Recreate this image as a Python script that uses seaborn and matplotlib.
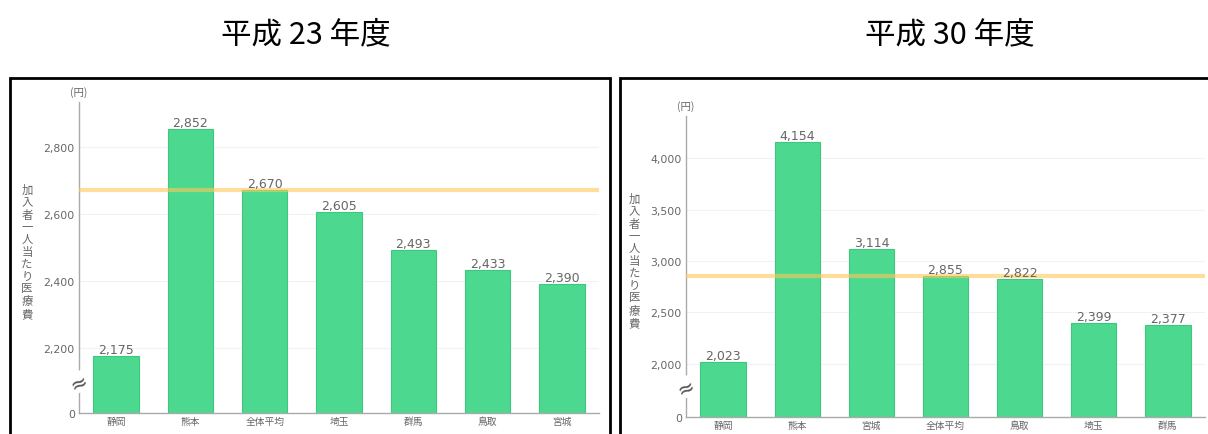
import matplotlib
matplotlib.use('Agg')
import matplotlib.pyplot as plt
import matplotlib.patches as patches
import seaborn as sns

# data
cats_h23 = ['静岡', '熊本', '全体平均', '埼玉', '群馬', '鳥取', '宮城']
vals_h23 = [2175, 2852, 2670, 2605, 2493, 2433, 2390]
avg_h23 = 2670
ticks_h23 = [2200, 2400, 2600, 2800]

cats_h30 = ['静岡', '熊本', '宮城', '全体平均', '鳥取', '埼玉', '群馬']
vals_h30 = [2023, 4154, 3114, 2855, 2822, 2399, 2377]
avg_h30 = 2855
ticks_h30 = [2000, 2500, 3000, 3500, 4000]

sns.set_theme(style='white')
plt.rcParams['font.family'] = ['Noto Sans CJK JP', 'DejaVu Sans']
NUM_FONT = ['DejaVu Sans', 'Noto Sans CJK JP']

BAR = '#4cd98f'
AVG = '#ffc85a'
TXT = '#666666'
W, H = 1208, 435

fig = plt.figure(figsize=(W / 100, H / 100), dpi=100)


def fx(px):
    return px / W


def fy(py):
    return 1 - py / H


def panel(rect, cats, vals, avg, ticks, ylim, title, box, title_x):
    ax = fig.add_axes(rect)
    sns.barplot(x=cats, y=vals, ax=ax, color=BAR, width=0.61,
                edgecolor='#3cc87e', linewidth=0.8, saturation=1, zorder=2)
    ax.set_ylim(*ylim)
    ax.set_xlim(-0.5, len(cats) - 0.5)
    ax.axhline(avg, color=AVG, lw=3, alpha=0.6, zorder=3)
    ax.set_yticks([ylim[0]] + ticks)
    ax.set_yticklabels(['0'] + [f'{t:,}' for t in ticks], family=NUM_FONT)
    for t in ticks:
        ax.axhline(t, color='#f2f2f2', lw=0.8, zorder=0)
    ax.tick_params(axis='y', labelsize=7.8, colors=TXT, length=0, pad=3)
    ax.tick_params(axis='x', labelsize=7, colors=TXT, length=0, pad=2)
    ax.bar_label(ax.containers[0], labels=[f'{v:,}' for v in vals],
                 fontsize=9, color=TXT, padding=0, family=NUM_FONT)
    for s in ['top', 'right']:
        ax.spines[s].set_visible(False)
    for s in ['left', 'bottom']:
        ax.spines[s].set_color('#aaaaaa')
        ax.spines[s].set_linewidth(1)
    ax.set_xlabel('')
    ax.set_ylabel('')
    # axis break marker
    ax.text(0, 0.1, '≈', transform=ax.transAxes, ha='center', va='center',
            fontsize=15, color='#555555', rotation=25, family=NUM_FONT,
            bbox=dict(facecolor='white', edgecolor='none', pad=0.1), zorder=5,
            clip_on=False)
    ax.text(0, 1.015, '(円)', transform=ax.transAxes, ha='center', va='bottom',
            fontsize=7.5, color=TXT)
    ax.text(-0.1, 0.52, '\n'.join('加入者一人当たり医療費'), transform=ax.transAxes,
            ha='center', va='center', fontsize=8.2, color=TXT, linespacing=1.25)
    fig.text(fx(title_x), fy(35), title, ha='center', va='center', fontsize=22,
             color='black')
    x0, x1, y0 = box
    fig.patches.append(patches.Rectangle((fx(x0), -0.2), fx(x1 - x0), fy(y0) + 0.2,
                                         transform=fig.transFigure, fill=False,
                                         edgecolor='black', linewidth=2))
    return ax


panel([fx(79), fy(414), fx(520), (414 - 103) / H], cats_h23, vals_h23, avg_h23,
      ticks_h23, (2006, 2934), '平成 23 年度', (10, 610, 79), 306)
panel([fx(686), fy(418), fx(519), (418 - 117) / H], cats_h30, vals_h30, avg_h30,
      ticks_h30, (1485, 4408), '平成 30 年度', (620, 1220, 79), 950)

fig.savefig('out.png', dpi=100)
